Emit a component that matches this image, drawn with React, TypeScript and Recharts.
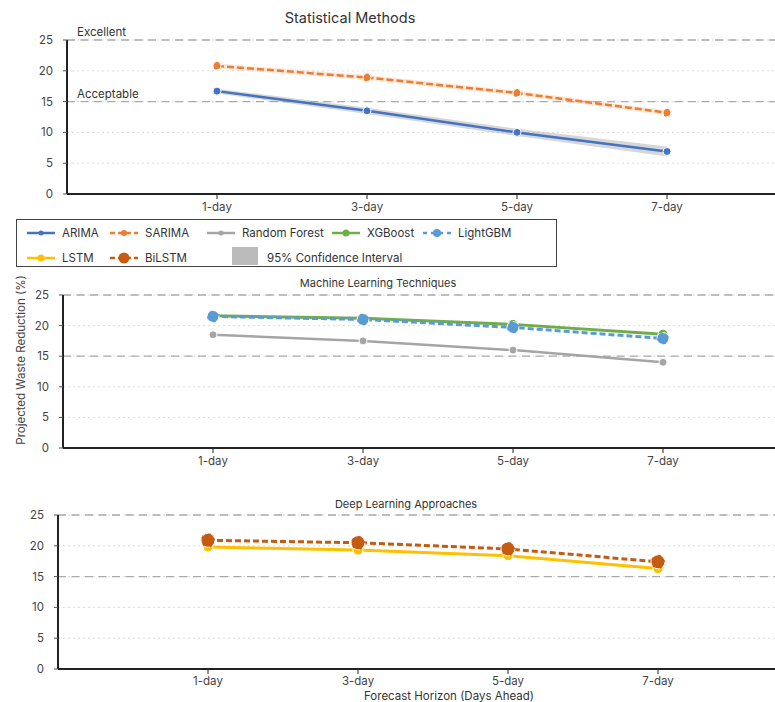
import React from 'react';
import {
  ComposedChart,
  Line,
  Area,
  XAxis,
  YAxis,
  CartesianGrid,
  ReferenceLine,
} from 'recharts';

// forecast horizons (days ahead) and their tick labels
const horizons = [1, 3, 5, 7];
const horizonLabels = ['1-day', '3-day', '5-day', '7-day'];
const yTicks = [0, 5, 10, 15, 20, 25];

// statistical methods
const arima = [16.7, 13.5, 10.0, 6.9];
const arimaLow = [16.3, 13.0, 9.4, 6.1];
const arimaHigh = [17.1, 14.0, 10.6, 7.7];
const sarima = [20.8, 18.9, 16.4, 13.2];
const sarimaLow = [20.4, 18.5, 16.0, 12.8];
const sarimaHigh = [21.2, 19.3, 16.8, 13.6];

// machine learning
const randomForest = [18.5, 17.5, 16.0, 14.0];
const xgboost = [21.6, 21.2, 20.2, 18.6];
const lightgbm = [21.5, 21.0, 19.7, 17.9];

// deep learning
const lstm = [19.8, 19.3, 18.4, 16.3];
const bilstm = [20.9, 20.5, 19.5, 17.4];

// threshold lines
const thresholds = [
  { value: 25, label: 'Excellent' },
  { value: 15, label: 'Acceptable' },
];

const rows = horizons.map((day, i) => ({
  day,
  arima: arima[i],
  arimaBand: [arimaLow[i], arimaHigh[i]],
  sarima: sarima[i],
  sarimaBand: [sarimaLow[i], sarimaHigh[i]],
  randomForest: randomForest[i],
  xgboost: xgboost[i],
  lightgbm: lightgbm[i],
  lstm: lstm[i],
  bilstm: bilstm[i],
}));

const C = {
  arima: '#4472C4',
  sarima: '#ED7D31',
  rf: '#A5A5A5',
  xgb: '#70AD47',
  lgbm: '#5B9BD5',
  lstm: '#FFC000',
  bilstm: '#C55A11',
};

const FONT = 'Inter, "Noto Sans", sans-serif';
const W = 775;
const UNIT = 75; // px per day

type SeriesDef = {
  key: string;
  color: string;
  width: number;
  dash?: string;
  r: number;
};

type PanelProps = {
  top: number;
  plotLeft: number;
  marginTop: number;
  plotHeight: number;
  series: SeriesDef[];
  bands?: { key: string; color: string; opacity: number }[];
  labels?: boolean;
  tickGap?: number;
};

const ThresholdLabel = ({ viewBox, text }: any) => {
  if (!viewBox) return null;
  return (
    <text
      x={viewBox.x + 10}
      y={viewBox.y - 4}
      fontSize={11.5}
      fill="#333"
      fontFamily={FONT}
    >
      {text}
    </text>
  );
};

function Panel({ top, plotLeft, marginTop, plotHeight, series, bands = [], labels, tickGap = 4 }: PanelProps) {
  const xMax = -1 + (W - plotLeft) / UNIT;
  const xAxisH = 30;
  return (
    <div style={{ position: 'absolute', left: 0, top }}>
      <ComposedChart
        width={W}
        height={marginTop + plotHeight + xAxisH}
        data={rows}
        margin={{ top: marginTop, right: 0, bottom: 0, left: 0 }}
      >
        <CartesianGrid vertical={false} stroke="#ddd" strokeDasharray="2 3" />
        <XAxis
          type="number"
          dataKey="day"
          domain={[-1, xMax]}
          ticks={horizons}
          tickFormatter={(v: number) => horizonLabels[horizons.indexOf(v)]}
          height={xAxisH}
          tickSize={5}
          tickMargin={tickGap}
          axisLine={{ stroke: '#222', strokeWidth: 2 }}
          tickLine={{ stroke: '#222' }}
          tick={{ fontSize: 11.5, fill: '#444', fontFamily: FONT }}
          allowDataOverflow
        />
        <YAxis
          width={plotLeft}
          domain={[0, 25]}
          ticks={yTicks}
          tickSize={4}
          tickMargin={10}
          axisLine={{ stroke: '#222', strokeWidth: 2 }}
          tickLine={{ stroke: '#555' }}
          tick={{ fontSize: 11.5, fill: '#444', fontFamily: FONT }}
        />
        {thresholds.map((t) => (
          <ReferenceLine
            key={t.value}
            y={t.value}
            stroke="#aaa"
            strokeWidth={1.3}
            strokeDasharray="8 5.5"
            label={labels ? <ThresholdLabel text={t.label} /> : undefined}
          />
        ))}
        {bands.map((b) => (
          <Area
            key={b.key}
            dataKey={b.key}
            type="linear"
            stroke="none"
            fill={b.color}
            fillOpacity={b.opacity}
            isAnimationActive={false}
            activeDot={false}
          />
        ))}
        {series.map((s) => (
          <Line
            key={s.key}
            dataKey={s.key}
            type="linear"
            stroke={s.color}
            strokeWidth={s.width}
            strokeDasharray={s.dash}
            dot={{ r: s.r, fill: s.color, stroke: '#fff', strokeWidth: 1 }}
            activeDot={false}
            isAnimationActive={false}
          />
        ))}
      </ComposedChart>
    </div>
  );
}

const legendItems = [
  { name: 'ARIMA', color: C.arima, dash: undefined, r: 2.5, x: 10, row: 0 },
  { name: 'SARIMA', color: C.sarima, dash: '5 3', r: 3, x: 93, row: 0 },
  { name: 'Random Forest', color: C.rf, dash: undefined, r: 2.5, x: 190, row: 0 },
  { name: 'XGBoost', color: C.xgb, dash: undefined, r: 3.5, x: 315, row: 0 },
  { name: 'LightGBM', color: C.lgbm, dash: '4 4', r: 4, x: 406, row: 0 },
  { name: 'LSTM', color: C.lstm, dash: undefined, r: 3.5, x: 10, row: 1 },
  { name: 'BiLSTM', color: C.bilstm, dash: '5 3', r: 5.5, x: 93, row: 1 },
];

function LegendBox() {
  return (
    <div
      style={{
        position: 'absolute',
        left: 16,
        top: 219,
        width: 539,
        height: 46,
        border: '1.5px solid #444',
        background: '#fff',
        fontFamily: FONT,
        fontSize: 11.5,
        color: '#333',
      }}
    >
      {legendItems.map((it) => (
        <div
          key={it.name}
          style={{
            position: 'absolute',
            left: it.x,
            top: it.row === 0 ? 5 : 30,
            height: 16,
            display: 'flex',
            alignItems: 'center',
            whiteSpace: 'nowrap',
          }}
        >
          <svg width={28} height={14}>
            <line
              x1={0}
              y1={7}
              x2={28}
              y2={7}
              stroke={it.color}
              strokeWidth={2.5}
              strokeDasharray={it.dash}
            />
            <circle cx={14} cy={7} r={it.r} fill={it.color} />
          </svg>
          <span style={{ marginLeft: 7 }}>{it.name}</span>
        </div>
      ))}
      <div style={{ position: 'absolute', left: 215, top: 27, width: 26, height: 18, background: '#bbb' }} />
      <div style={{ position: 'absolute', left: 250, top: 30, height: 16, lineHeight: '16px', whiteSpace: 'nowrap' }}>
        95% Confidence Interval
      </div>
    </div>
  );
}

const Title = ({ text, cx, cy, size }: { text: string; cx: number; cy: number; size: number }) => (
  <div
    style={{
      position: 'absolute',
      left: cx - 200,
      top: cy - 6,
      width: 400,
      height: 12,
      lineHeight: '12px',
      textAlign: 'center',
      fontSize: size,
      color: '#333',
      fontFamily: FONT,
      whiteSpace: 'nowrap',
    }}
  >
    {text}
  </div>
);

export default function App() {
  return (
    <div
      style={{
        position: 'absolute',
        left: 0,
        top: 0,
        width: W,
        height: 702,
        overflow: 'hidden',
        background: '#fff',
        fontFamily: FONT,
      }}
    >
      <Panel
        top={0}
        plotLeft={67}
        marginTop={40}
        plotHeight={154}
        labels
        bands={[
          { key: 'arimaBand', color: '#9a9a9a', opacity: 0.4 },
          { key: 'sarimaBand', color: C.sarima, opacity: 0.18 },
        ]}
        series={[
          { key: 'arima', color: C.arima, width: 2.5, r: 4 },
          { key: 'sarima', color: C.sarima, width: 2.5, dash: '7 3', r: 4 },
        ]}
      />
      <Panel
        top={280}
        plotLeft={63}
        marginTop={15}
        plotHeight={153}
        series={[
          { key: 'randomForest', color: C.rf, width: 2.5, r: 4 },
          { key: 'xgboost', color: C.xgb, width: 3, r: 5 },
          { key: 'lightgbm', color: C.lgbm, width: 3, dash: '6 3', r: 6 },
        ]}
      />
      <Panel
        top={500}
        plotLeft={58}
        marginTop={15}
        plotHeight={154}
        tickGap={3}
        series={[
          { key: 'lstm', color: C.lstm, width: 3, r: 5 },
          { key: 'bilstm', color: C.bilstm, width: 3, dash: '6 3', r: 7 },
        ]}
      />
      <LegendBox />
      <Title text="Statistical Methods" cx={350} cy={18} size={14.5} />
      <Title text="Machine Learning Techniques" cx={378} cy={283} size={11} />
      <Title text="Deep Learning Approaches" cx={406} cy={504} size={11} />
      <Title text="Forecast Horizon (Days Ahead)" cx={449} cy={695.5} size={11.5} />
      <div
        style={{
          position: 'absolute',
          left: 21 - 100,
          top: 360 - 9,
          width: 200,
          height: 18,
          lineHeight: '18px',
          textAlign: 'center',
          fontSize: 11.5,
          color: '#444',
          transform: 'rotate(-90deg)',
          whiteSpace: 'nowrap',
        }}
      >
        Projected Waste Reduction (%)
      </div>
    </div>
  );
}
